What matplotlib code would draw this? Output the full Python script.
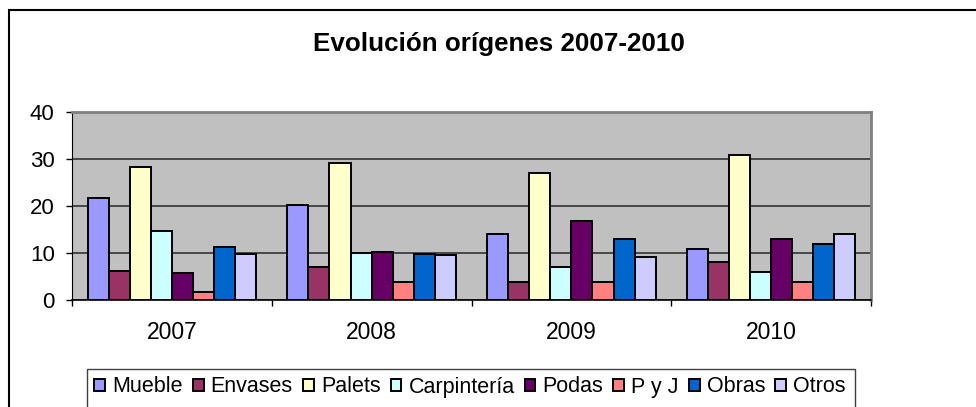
import matplotlib.pyplot as plt
import matplotlib.patches as mpatches
import numpy as np

plt.rcParams['font.family'] = ['Liberation Sans', 'DejaVu Sans']

# categories and series
years = ["2007", "2008", "2009", "2010"]
series_names = ["Mueble", "Envases", "Palets", "Carpintería", "Podas", "P y J", "Obras", "Otros"]
mueble = [21.7, 20.3, 14.0, 10.9]
envases = [6.2, 7.0, 3.8, 8.0]
palets = [28.4, 29.2, 27.1, 30.9]
carpinteria = [14.7, 10.0, 7.0, 5.9]
podas = [5.7, 10.2, 16.8, 13.0]
pyj = [1.7, 3.8, 3.8, 3.8]
obras = [11.3, 9.8, 13.0, 12.0]
otros = [9.8, 9.5, 9.1, 14.1]

colors = ["#9999FF", "#993366", "#FFFFCC", "#CCFFFF", "#660066", "#FF8080", "#0066CC", "#CCCCFF"]
all_series = [mueble, envases, palets, carpinteria, podas, pyj, obras, otros]

W, H = 976, 407
fig = plt.figure(figsize=(W / 100, H / 100), dpi=100)
ax = fig.add_axes([72 / W, 1 - 300 / H, (871 - 72) / W, (300 - 112) / H])
ax.set_facecolor("#C0C0C0")

x = np.arange(len(years))
bw = 0.1056
for i, (vals, c, name) in enumerate(zip(all_series, colors, series_names)):
    ax.bar(x + (i - 3.5) * bw, vals, bw, color=c, edgecolor="black",
           linewidth=1.4, label=name, zorder=3)

ax.set_xlim(-0.5, 3.5)
ax.set_ylim(0, 40)
ax.set_yticks([0, 10, 20, 30, 40])
ax.yaxis.grid(True, color="#333333", linewidth=1.2, zorder=1)
ax.tick_params(axis="y", labelsize=16, length=4.5, width=1, pad=8, direction="out")

# boundaries as ticks, labels centred between them
ax.set_xticks(np.arange(-0.5, 4.0, 1.0))
ax.set_xticklabels([])
ax.set_xticks(x, minor=True)
ax.set_xticklabels(years, minor=True)
ax.tick_params(axis="x", which="major", length=4.5, width=1, direction="out")
ax.tick_params(axis="x", which="minor", length=0, labelsize=16.5, pad=15)

ax.spines["left"].set_color("black")
ax.spines["bottom"].set_color("black")
ax.spines["bottom"].set_linewidth(1.2)
ax.spines["top"].set_color("#808080")
ax.spines["right"].set_color("#808080")
ax.spines["top"].set_linewidth(2)
ax.spines["right"].set_linewidth(2)

fig.text(499 / W, 1 - 51 / H, "Evolución orígenes 2007-2010", ha="center", va="baseline",
         fontsize=18.7, fontweight="bold")

# outer chart frame and legend frame
fig.patches.append(mpatches.Rectangle((9 / W, -0.1), 1.1, 1 - 10 / H + 0.1,
                                      transform=fig.transFigure, fill=False,
                                      edgecolor="black", linewidth=1.5))
fig.patches.append(mpatches.Rectangle((87 / W, -0.1), (855 - 87) / W, 1 - 369 / H + 0.1,
                                      transform=fig.transFigure, fill=False,
                                      edgecolor="#404040", linewidth=1))

handles, labels = ax.get_legend_handles_labels()
fig.legend(handles, labels, loc="center", bbox_to_anchor=(470 / W, 1 - 387 / H),
           ncol=8, frameon=False, fontsize=15.5, handlelength=0.5, handleheight=0.5,
           handletextpad=0.33, columnspacing=0.47, borderaxespad=0, borderpad=0)

fig.savefig("out.png", dpi=100)
